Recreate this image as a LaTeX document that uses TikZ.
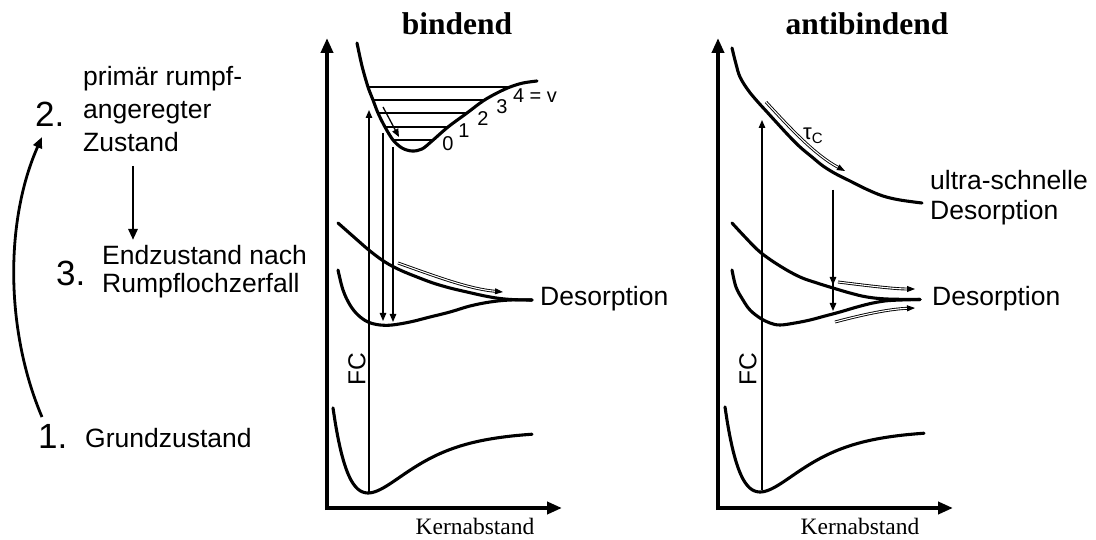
\documentclass[tikz,border=0pt]{standalone}
\usepackage{fontspec}
\setmainfont{Liberation Sans}
\newfontfamily\tnr{Liberation Serif}
\usetikzlibrary{arrows.meta}
\begin{document}
\begin{tikzpicture}[x=1pt,y=-1pt,
  curve/.style={line width=3.1pt, line cap=round},
  axis/.style={line width=4pt, -{Triangle[length=15pt,width=12pt]}},
  thinarr/.style={line width=1.3pt, -{Triangle[length=8pt,width=6.5pt]}},
  midarr/.style={line width=2.8pt, -{Triangle[length=11pt,width=9pt]}},
  dbl/.style={double, line width=0.9pt, double distance=1.1pt, -{Triangle[length=8pt,width=6pt]}},
  lvl/.style={line width=1.9pt},
  lbl/.style={font=\fontsize{26.5}{30}\selectfont, inner sep=0pt, anchor=base west},
  num/.style={font=\fontsize{35}{38}\selectfont, inner sep=0pt, anchor=base west},
  small/.style={font=\fontsize{20}{22}\selectfont, inner sep=0pt},
  title/.style={font=\tnr\bfseries\fontsize{31.5}{34}\selectfont, inner sep=0pt, anchor=base},
  xlab/.style={font=\tnr\fontsize{23.5}{26}\selectfont, inner sep=0pt, anchor=base},
  fc/.style={font=\fontsize{24.5}{26}\selectfont, inner sep=0pt, rotate=90},
  ]
\useasboundingbox (0,0) rectangle (1096,540);

% ---------------- left column ----------------
\node[lbl] (z2a) at (83,86) {primär rumpf-};
\node[lbl] (z2b) at (83,119) {angeregter};
\node[lbl] (z2c) at (83,152) {Zustand};
\node[num] (n2) at (35,127) {2.};
\node[lbl] (z3a) at (102,265) {Endzustand nach};
\node[lbl] (z3b) at (102,293) {Rumpflochzerfall};
\node[num] (n3) at (56,286) {3.};
\node[num] (n1) at (38,448) {1.};
\node[lbl] (z1) at (85,447) {Grundzustand};
\coordinate (c1) at (42,417);
\coordinate (c2) at (42,137);
\draw[midarr] (c1) .. controls (5,330) and (5,220) .. (c2);
\coordinate (d1) at (133,166);
\coordinate (d2) at (133,240);
\draw[midarr] (d1) -- (d2);

% ---------------- bindend ----------------
\node[title] (tb) at (457,35) {bindend};
\draw[axis] (327,510) -- (327,38);
\draw[axis] (325,508) -- (562,508);
\node[xlab] (kb) at (475,534) {Kernabstand};

% ground state
\draw[curve] plot[domain=333:532, samples=90, smooth]
  ({\x},{493-62*(1-exp(-0.02215*(\x-368)))*(1-exp(-0.02215*(\x-368)))});
% core-excited bound state
\draw[curve] plot[smooth, tension=0.55] coordinates {
  (357,43) (362,66) (368,87) (373,100) (378,113) (385,127) (393,140)
  (402,148) (412,151) (422,149) (432,141) (448,127) (467,113) (483,101)
  (497,93) (510,87) (523,83) (537,81)};
\draw[lvl] (368,87) -- (510,87);
\draw[lvl] (373,100) -- (483,100);
\draw[lvl] (378,113) -- (467,113);
\draw[lvl] (385,127) -- (448,127);
\draw[lvl] (393,140) -- (432,140);
\node[small] (v0) at (448,144) {0};
\node[small] (v1) at (464,131) {1};
\node[small] (v2) at (483,119) {2};
\node[small] (v3) at (502,107) {3};
\node[small] (v4) at (535,96) {4 = v};
\draw[thinarr] (383,107) -- (399,137);
% final states
\draw[curve] plot[smooth, tension=0.6] coordinates {
  (338,223) (355,238) (370,251) (385,262) (400,270) (417,277) (433,283)
  (450,288) (467,292) (485,296) (500,298.5) (515,299.7) (532,300)};
\draw[curve] plot[smooth, tension=0.6] coordinates {
  (338,270) (343,290) (350,305) (358,315) (368,322) (380,325) (392,325)
  (410,322) (430,317) (450,312) (470,306) (490,302) (510,300) (532,300)};
\draw[dbl] (398,263) .. controls (440,278) and (470,289) .. (503,292);
\node[lbl, anchor=west] (desb) at (540,299) {Desorption};
% transitions
\draw[thinarr] (369,493) -- (369,110);
\draw[thinarr] (383,133) -- (383,321);
\draw[thinarr] (393,147) -- (393,322);
\node[fc] (fcb) at (357,369) {FC};

% ---------------- antibindend ----------------
\node[title] (ta) at (867,35) {antibindend};
\draw[axis] (718,510) -- (718,38);
\draw[axis] (716,508) -- (953,508);
\node[xlab] (ka) at (860,534) {Kernabstand};

\draw[curve] plot[domain=725:924, samples=90, smooth]
  ({\x},{492-62*(1-exp(-0.02215*(\x-760)))*(1-exp(-0.02215*(\x-760)))});
% repulsive core-excited state
\draw[curve] plot[smooth, tension=0.6] coordinates {
  (732,48) (736,64) (740,77) (748,90) (757,101) (767,112) (777,123)
  (789,136) (800,147) (812,157) (823,166) (836,174) (850,181) (866,189)
  (883,196) (900,200) (922,203)};
\draw[dbl] (766,102) .. controls (790,128) and (815,155) .. (845,171);
\node[font=\fontsize{22}{23}\selectfont, inner sep=0pt] (tau) at (813,136) {τ\raisebox{-0.35ex}{\fontsize{15}{16}\selectfont C}};
\node[lbl, anchor=west, align=left, font=\fontsize{26.5}{30}\selectfont] (usd) at (930,198) {ultra-schnelle\\Desorption};
% final states
\draw[curve] plot[smooth, tension=0.6] coordinates {
  (732,223) (745,237) (760,252) (780,266) (800,277) (817,283) (833,288)
  (850,293) (867,297) (887,299) (920,299.5)};
\draw[curve] plot[smooth, tension=0.6] coordinates {
  (732,270) (736,287) (743,300) (750,310) (760,318) (770,323) (780,325)
  (795,323) (810,320) (825,316) (840,312) (857,307) (873,303) (890,300.5) (920,299.5)};
\draw[dbl] (838,282) .. controls (870,286) and (895,289) .. (915,289);
\draw[dbl] (835,322) .. controls (865,314) and (890,309) .. (915,308);
\node[lbl, anchor=west] (desa) at (932,299) {Desorption};
% transitions
\draw[thinarr] (762,490) -- (762,120);
\draw[thinarr] (833,190) -- (833,285);
\draw[thinarr] (833,190) -- (833,311);
\node[fc] (fca) at (748,369) {FC};
\end{tikzpicture}
\end{document}
